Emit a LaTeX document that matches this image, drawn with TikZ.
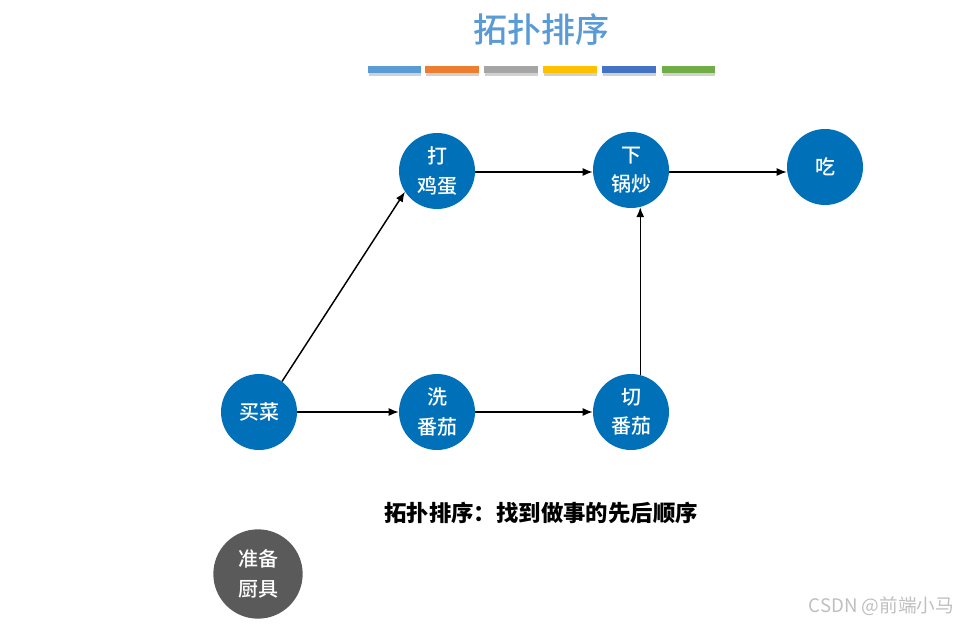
\documentclass[tikz,border=0pt]{standalone}
\usepackage{fontspec}
\setmainfont{Noto Sans CJK SC}
\newfontfamily\cjkmed[UprightFont=* Medium, BoldFont=* Bold]{Noto Sans CJK SC}
\usetikzlibrary{arrows.meta}
\definecolor{nodeblue}{HTML}{0071B9}
\definecolor{nodegray}{HTML}{5A5A5A}
\definecolor{titleblue}{HTML}{5B9BD5}
\definecolor{cA}{HTML}{5B9BD5}
\definecolor{cB}{HTML}{ED7D31}
\definecolor{cC}{HTML}{A5A5A5}
\definecolor{cD}{HTML}{FFC000}
\definecolor{cE}{HTML}{4472C4}
\definecolor{cF}{HTML}{70AD47}
\tikzset{
  task/.style={circle, fill=nodeblue, text=white, minimum size=57pt, inner sep=0pt,
    font=\cjkmed\fontsize{15pt}{22pt}\selectfont, align=center},
  grey task/.style={task, fill=nodegray, minimum size=67pt},
  flow/.style={-{Latex[length=7.5pt,width=6pt]}, line width=1.1pt, black},
  bar/.style={minimum width=40pt, minimum height=5.3pt, inner sep=0pt},
  barshadow/.style={fill=black!18},
}
\begin{document}
\begin{tikzpicture}[x=0.75pt,y=-0.75pt]
\useasboundingbox (0,0) rectangle (963,624);
% title
\node[text=titleblue, font=\cjkmed\fontsize{25.5pt}{28pt}\selectfont] (title) at (541,30) {拓扑排序};
% colour bars
\foreach \x/\c [count=\i] in {394.5/cA, 452/cB, 511/cC, 570/cD, 629/cE, 688.5/cF}{
  \fill[barshadow] (\x-26,69) rectangle (\x+26.5,76);
  \node[bar, fill=\c] (bar\i) at (\x,69.5) {};
}
% nodes
\node[task] (buy) at (259,412) {买菜};
\node[task] (egg) at (437,171) {打\\鸡蛋};
\node[task] (fry) at (631,170) {下\\锅炒};
\node[task] (eat) at (825,167) {吃};
\node[task] (wash) at (437,412) {洗\\番茄};
\node[task] (cut) at (631,412) {切\\番茄};
\node[grey task] (tools) at (258,574) {准备\\厨具};
% connectors
\draw[flow] (buy.53) -- (egg.213);
\draw[flow] (buy) -- (wash);
\draw[flow] (wash) -- (cut);
\draw[flow] (cut.76) -- (fry.-76);
\draw[flow] (egg.east |- 0,172) -- (fry.west |- 0,172);
\draw[flow] (fry.east |- 0,172) -- (eat.west |- 0,172);
% caption
\node[font=\fontsize{16.8pt}{20pt}\selectfont\bfseries] (caption) at (541,513) {拓扑排序：找到做事的先后顺序};
% watermark
\node[text=black!25, font=\fontsize{14pt}{16pt}\selectfont, anchor=east] (mark) at (959,606) {CSDN @前端小马};
\end{tikzpicture}
\end{document}
